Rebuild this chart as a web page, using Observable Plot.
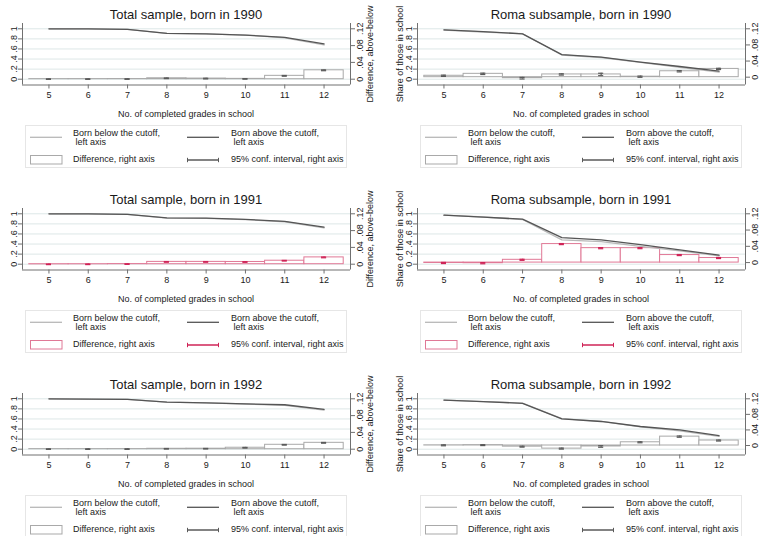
<!DOCTYPE html>
<html><head><meta charset="utf-8">
<script src="https://cdn.jsdelivr.net/npm/d3@7"></script>
<script src="https://cdn.jsdelivr.net/npm/@observablehq/plot@0.6"></script>
<style>
body{margin:0;background:#fff;font-family:"Liberation Sans",Arial,sans-serif;color:#1a1a1a}
#root{position:relative;width:761px;height:536px;overflow:hidden;background:#fff}
.panel{position:absolute;width:380px;height:185px}
.title{position:absolute;top:7.6px;font-size:13px;line-height:1;text-align:center;white-space:nowrap}
.xtitle{position:absolute;top:110.3px;font-size:9px;line-height:1;text-align:center;white-space:nowrap}
.ytitle{position:absolute;font-size:9px;line-height:1;white-space:nowrap;transform:translate(-50%,-50%) rotate(-90deg)}
.legend{position:absolute;top:125px;width:322px;height:43px;border:1px solid #e6e6e6;box-sizing:border-box}
.lt{position:absolute;font-size:9px;line-height:9.4px;white-space:pre}
</style></head>
<body><div id="root"></div>
<script>
// ---------- categories, ticks, labels ----------
const grades = [5, 6, 7, 8, 9, 10, 11, 12];
const leftTicks = [0, 0.2, 0.4, 0.6, 0.8, 1];
const leftTickLabels = ["0", ".2", ".4", ".6", ".8", "1"];
const rightTicks = [0, 0.04, 0.08, 0.12];
const rightTickLabels = ["0", ".04", ".08", ".12"];
const panelTitles = [
  "Total sample, born in 1990", "Roma subsample, born in 1990",
  "Total sample, born in 1991", "Roma subsample, born in 1991",
  "Total sample, born in 1992", "Roma subsample, born in 1992"
];
const legendLabels = ["Born below the cutoff,\n left axis", "Born above the cutoff,\n left axis", "Difference, right axis", "95% conf. interval, right axis"];
const xTitle = "No. of completed grades in school";
const leftTitle = "Share of those in school";
const rightTitle = "Difference, above-below";

// ---------- series (left axis: shares; right axis: differences) ----------
const aboveTotal1990 = [1.0, 1.0, 0.99, 0.91, 0.90, 0.875, 0.83, 0.70];
const belowTotal1990 = [1.0, 1.0, 0.99, 0.908, 0.899, 0.874, 0.822, 0.679];
const diffTotal1990  = [0.0002, 0.0003, 0.0004, 0.0022, 0.0015, 0.0008, 0.0080, 0.0212];
const loTotal1990    = [-0.0005, -0.0004, -0.0003, 0.0014, 0.0007, 0.0001, 0.0071, 0.0202];
const hiTotal1990    = [0.0009, 0.0010, 0.0011, 0.0030, 0.0023, 0.0015, 0.0089, 0.0222];

const aboveRoma1990 = [0.98, 0.945, 0.90, 0.487, 0.437, 0.337, 0.252, 0.159];
const belowRoma1990 = [0.9765, 0.9367, 0.9025, 0.4802, 0.4302, 0.3358, 0.2373, 0.1385];
const diffRoma1990  = [0.0035, 0.0083, -0.0025, 0.0068, 0.0068, 0.0012, 0.0147, 0.0205];
const loRoma1990    = [0.0020, 0.0066, -0.0045, 0.0052, 0.0038, -0.0003, 0.0131, 0.0190];
const hiRoma1990    = [0.0050, 0.0100, -0.0005, 0.0084, 0.0098, 0.0027, 0.0163, 0.0220];

const aboveTotal1991 = [1.0, 1.0, 0.99, 0.921, 0.914, 0.89, 0.85, 0.737];
const belowTotal1991 = [1.0, 1.0, 0.99, 0.915, 0.908, 0.885, 0.842, 0.721];
const diffTotal1991  = [-0.0003, -0.0002, 0.0003, 0.0055, 0.0055, 0.0053, 0.0083, 0.0162];
const loTotal1991    = [-0.0010, -0.0009, -0.0004, 0.0047, 0.0047, 0.0045, 0.0075, 0.0153];
const hiTotal1991    = [0.0004, 0.0005, 0.0010, 0.0063, 0.0063, 0.0061, 0.0091, 0.0171];

const aboveRoma1991 = [0.972, 0.935, 0.893, 0.528, 0.482, 0.389, 0.284, 0.179];
const belowRoma1991 = [0.973, 0.9365, 0.886, 0.4825, 0.4465, 0.3535, 0.2655, 0.1678];
const diffRoma1991  = [-0.0010, -0.0015, 0.0068, 0.0455, 0.0355, 0.0355, 0.0185, 0.0112];
const loRoma1991    = [-0.0024, -0.0029, 0.0055, 0.0442, 0.0341, 0.0342, 0.0172, 0.0099];
const hiRoma1991    = [0.0004, -0.0001, 0.0081, 0.0468, 0.0369, 0.0368, 0.0198, 0.0125];

const aboveTotal1992 = [1.0, 0.995, 0.988, 0.934, 0.921, 0.90, 0.882, 0.789];
const belowTotal1992 = [1.0, 0.995, 0.988, 0.933, 0.920, 0.8965, 0.8715, 0.7738];
const diffTotal1992  = [0.0002, 0.0002, 0.0003, 0.0010, 0.0012, 0.0035, 0.0105, 0.0152];
const loTotal1992    = [-0.0005, -0.0005, -0.0004, 0.0003, 0.0005, 0.0027, 0.0097, 0.0143];
const hiTotal1992    = [0.0009, 0.0009, 0.0010, 0.0017, 0.0019, 0.0043, 0.0113, 0.0161];

const aboveRoma1992 = [0.975, 0.945, 0.91, 0.60, 0.55, 0.45, 0.385, 0.268];
const belowRoma1992 = [0.9745, 0.944, 0.913, 0.608, 0.5525, 0.4417, 0.3622, 0.2552];
const diffRoma1992  = [0.0005, 0.0010, -0.0030, -0.0080, -0.0025, 0.0083, 0.0228, 0.0128];
const loRoma1992    = [-0.0007, -0.0002, -0.0042, -0.0093, -0.0045, 0.0070, 0.0212, 0.0115];
const hiRoma1992    = [0.0017, 0.0022, -0.0018, -0.0067, -0.0005, 0.0096, 0.0244, 0.0141];

const rightAxisMin = [0, -0.005, 0, -0.004, 0, -0.0095];
const rightAxisMax = 0.12;

// ---------- styling ----------
const grayStyle = {above: "#555555", below: "#b8b8b8", bar: "#a9a9a9", ci: "#5a5a5a"};
const redStyle  = {above: "#555555", below: "#b8b8b8", bar: "#e07896", ci: "#cf2457"};
const panelStyles = [grayStyle, grayStyle, redStyle, redStyle, grayStyle, grayStyle];
const axisColor = "#707070";
const FONT = '"Liberation Sans", Arial, sans-serif';

const series = [
  [aboveTotal1990, belowTotal1990, diffTotal1990, loTotal1990, hiTotal1990],
  [aboveRoma1990, belowRoma1990, diffRoma1990, loRoma1990, hiRoma1990],
  [aboveTotal1991, belowTotal1991, diffTotal1991, loTotal1991, hiTotal1991],
  [aboveRoma1991, belowRoma1991, diffRoma1991, loRoma1991, hiRoma1991],
  [aboveTotal1992, belowTotal1992, diffTotal1992, loTotal1992, hiTotal1992],
  [aboveRoma1992, belowRoma1992, diffRoma1992, loRoma1992, hiRoma1992]
];

const root = document.getElementById("root");
const xDomain = [4.327, 12.673];
const yDomain = [-0.115, 1.105];

function el(tag, cls, text) {
  const e = document.createElement(tag);
  if (cls) e.className = cls;
  if (text != null) e.textContent = text;
  return e;
}

series.forEach((s, i) => {
  const col = i % 2, row = Math.floor(i / 2);
  const W = 380, H = 122;
  const mL = col === 0 ? 22 : 37, mR = col === 0 ? 30 : 15;
  const st = panelStyles[i];
  const rmin = rightAxisMin[i];
  const toLeft = v => (v - rmin) / (rightAxisMax - rmin);
  const rightTicksLeft = rightTicks.map(toLeft);
  const data = grades.map((g, k) => ({g, above: s[0][k], below: s[1][k], diff: s[2][k], lo: s[3][k], hi: s[4][k]}));

  const panel = el("div", "panel");
  panel.style.left = (col * 380) + "px";
  panel.style.top = (row * 185) + "px";

  const plot = Plot.plot({
    width: W, height: H,
    marginLeft: mL, marginRight: mR, marginTop: 23, marginBottom: 37.5,
    x: {domain: xDomain},
    y: {domain: yDomain},
    style: {fontFamily: FONT, fontSize: "9px", color: "#1a1a1a", background: "transparent", overflow: "visible"},
    marks: [
      Plot.gridY(leftTicks, {stroke: "#dde7e7", strokeOpacity: 1, strokeWidth: 1}),
      Plot.rect(data, {x1: d => d.g - 0.5, x2: d => d.g + 0.5, y1: () => toLeft(0), y2: d => toLeft(d.diff),
        fill: "white", stroke: st.bar, strokeWidth: 1}),
      Plot.line(data, {x: "g", y: "below", stroke: st.below, strokeWidth: 1.3}),
      Plot.line(data, {x: "g", y: "above", stroke: st.above, strokeWidth: 1.3}),
      Plot.ruleX(data, {x: "g", y1: d => toLeft(d.lo), y2: d => toLeft(d.hi), stroke: st.ci, strokeWidth: 1.2}),
      Plot.ruleY(data, {y: d => toLeft(d.lo), x1: d => d.g - 0.065, x2: d => d.g + 0.065, stroke: st.ci, strokeWidth: 1.2}),
      Plot.ruleY(data, {y: d => toLeft(d.hi), x1: d => d.g - 0.065, x2: d => d.g + 0.065, stroke: st.ci, strokeWidth: 1.2}),
      Plot.ruleX([xDomain[0]], {stroke: axisColor, strokeWidth: 1}),
      Plot.ruleX([xDomain[1]], {stroke: axisColor, strokeWidth: 1}),
      Plot.ruleY([yDomain[0]], {stroke: axisColor, strokeWidth: 1}),
      Plot.axisX(grades, {tickSize: 4, tickPadding: 3, tickFormat: d => String(d), label: null, stroke: axisColor, fill: "#1a1a1a"}),
      Plot.axisY(leftTicks, {anchor: "left", tickSize: 4, tickPadding: 2, tickRotate: -90, label: null,
        tickFormat: d => leftTickLabels[leftTicks.indexOf(d)], stroke: axisColor, fill: "#1a1a1a"}),
      Plot.axisY(rightTicksLeft, {anchor: "right", tickSize: 4, tickPadding: 2, tickRotate: -90, lineAnchor: "top", label: null,
        tickFormat: d => rightTickLabels[rightTicksLeft.findIndex(v => Math.abs(v - d) < 1e-9)], stroke: axisColor, fill: "#1a1a1a"})
    ]
  });
  plot.style.position = "absolute";
  plot.style.left = "0px";
  plot.style.top = "0px";
  panel.appendChild(plot);

  const cx = (mL + (W - mR)) / 2;
  const title = el("div", "title", panelTitles[i]);
  title.style.left = mL + "px"; title.style.width = (W - mL - mR) + "px";
  panel.appendChild(title);

  const xt = el("div", "xtitle", xTitle);
  xt.style.left = mL + "px"; xt.style.width = (W - mL - mR) + "px";
  panel.appendChild(xt);

  const yt = el("div", "ytitle", col === 0 ? rightTitle : leftTitle);
  yt.style.left = (col === 0 ? W - mR + 20 : mL - 17) + "px";
  yt.style.top = "53.5px";
  panel.appendChild(yt);

  const lg = el("div", "legend");
  lg.style.left = (cx - 161) + "px";
  lg.innerHTML =
    `<svg width="322" height="43" style="position:absolute;left:-1px;top:-1px;overflow:visible">
      <line x1="5" x2="37" y1="12.3" y2="12.3" stroke="${st.below}" stroke-width="1.3"/>
      <line x1="162" x2="194" y1="12.3" y2="12.3" stroke="${st.above}" stroke-width="1.3"/>
      <rect x="5.5" y="30.5" width="31.5" height="8.5" fill="white" stroke="${st.bar}" stroke-width="1"/>
      <line x1="162" x2="194" y1="35" y2="35" stroke="${st.ci}" stroke-width="1.5"/>
      <line x1="162.5" x2="162.5" y1="32.8" y2="37.2" stroke="${st.ci}" stroke-width="1"/>
      <line x1="193.5" x2="193.5" y1="32.8" y2="37.2" stroke="${st.ci}" stroke-width="1"/>
    </svg>`;
  const pos = [[47, 2.7], [205, 2.7], [47, 29.4], [205, 29.4]];
  legendLabels.forEach((t, k) => {
    const d = el("div", "lt", t);
    d.style.left = pos[k][0] + "px"; d.style.top = pos[k][1] + "px";
    lg.appendChild(d);
  });
  panel.appendChild(lg);

  root.appendChild(panel);
});
</script>
</body></html>
